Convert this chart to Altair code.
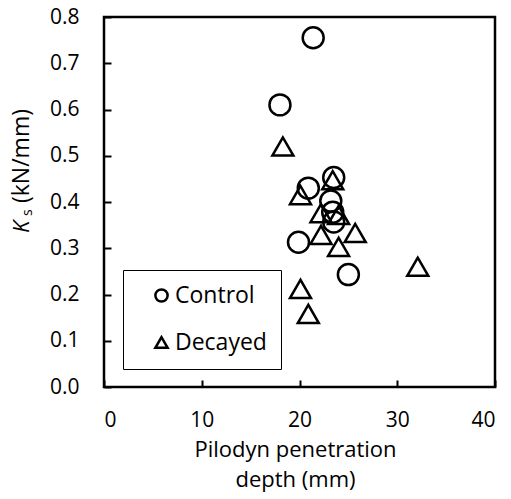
import altair as alt
import pandas as pd

# Data
control_x = [21.4, 18.0, 23.5, 20.9, 23.2, 23.4, 23.5, 19.9, 25.0]
control_y = [0.755, 0.61, 0.453, 0.43, 0.402, 0.378, 0.357, 0.313, 0.243]
decayed_x = [18.3, 23.4, 20.1, 22.2, 24.0, 22.2, 25.7, 24.0, 32.1, 20.1, 20.9]
decayed_y = [0.52, 0.447, 0.415, 0.376, 0.372, 0.329, 0.333, 0.303, 0.26, 0.212, 0.158]
groups = ["Control", "Decayed"]
x_ticks = [0, 10, 20, 30, 40]
y_ticks = [0.0, 0.1, 0.2, 0.3, 0.4, 0.5, 0.6, 0.7, 0.8]

df = pd.DataFrame({
    "depth": control_x + decayed_x,
    "ks": control_y + decayed_y,
    "group": [groups[0]] * len(control_x) + [groups[1]] * len(decayed_x),
})

FONT = "Open Sans"

points = alt.Chart(df).mark_point(
    filled=False, stroke="black", strokeWidth=2.5, size=440, opacity=1
).encode(
    x=alt.X("depth:Q",
            scale=alt.Scale(domain=[0, 40], nice=False),
            axis=alt.Axis(values=x_ticks, title=["Pilodyn penetration", "depth (mm)"],
                          grid=False, domain=False, ticks=True, tickSize=7,
                          tickWidth=2, tickColor="black", offset=-7,
                          labelPadding=22, labelFontSize=21, labelColor="black",
                          titleFontSize=22, titleFontWeight="normal", titleColor="black",
                          titlePadding=9, titleLineHeight=30, titleX=191)),
    y=alt.Y("ks:Q",
            scale=alt.Scale(domain=[0, 0.8], nice=False),
            axis=alt.Axis(values=y_ticks, format=".1f", title=None,
                          grid=False, domain=False, ticks=True, tickSize=7,
                          tickWidth=2, tickColor="black", offset=-7,
                          labelPadding=25, labelFontSize=21, labelColor="black")),
    shape=alt.Shape("group:N",
                    scale=alt.Scale(domain=groups, range=["circle", "triangle-up"]),
                    legend=alt.Legend(title=None, orient="none", legendX=19, legendY=253,
                                      strokeColor="black", fillColor="white", padding=14,
                                      symbolSize=150, symbolStrokeWidth=2.5,
                                      symbolStrokeColor="black", symbolFillColor="white",
                                      symbolOffset=13, labelOffset=2,
                                      labelFontSize=23, labelColor="black",
                                      rowPadding=23)),
)

one = pd.DataFrame({"a": [0]})
k_text = alt.Chart(one).mark_text(
    text="K", angle=270, align="left", baseline="middle",
    fontSize=22, fontStyle="italic", color="black"
).encode(x=alt.value(-82), y=alt.value(216))
s_text = alt.Chart(one).mark_text(
    text="s", angle=270, align="left", baseline="middle",
    fontSize=14, color="black"
).encode(x=alt.value(-76), y=alt.value(199))
unit_text = alt.Chart(one).mark_text(
    text="(kN/mm)", angle=270, align="left", baseline="middle",
    fontSize=23, color="black"
).encode(x=alt.value(-82), y=alt.value(186))

chart = alt.layer(points, k_text, s_text, unit_text).properties(
    width=391, height=370,
    autosize=alt.AutoSizeParams(type="none"),
    padding={"left": 104, "top": 17, "right": 16, "bottom": 112},
).configure(font=FONT).configure_view(
    stroke="black", strokeWidth=2.5
)

chart.save("out.html", embed_options={"renderer": "svg", "actions": False})
